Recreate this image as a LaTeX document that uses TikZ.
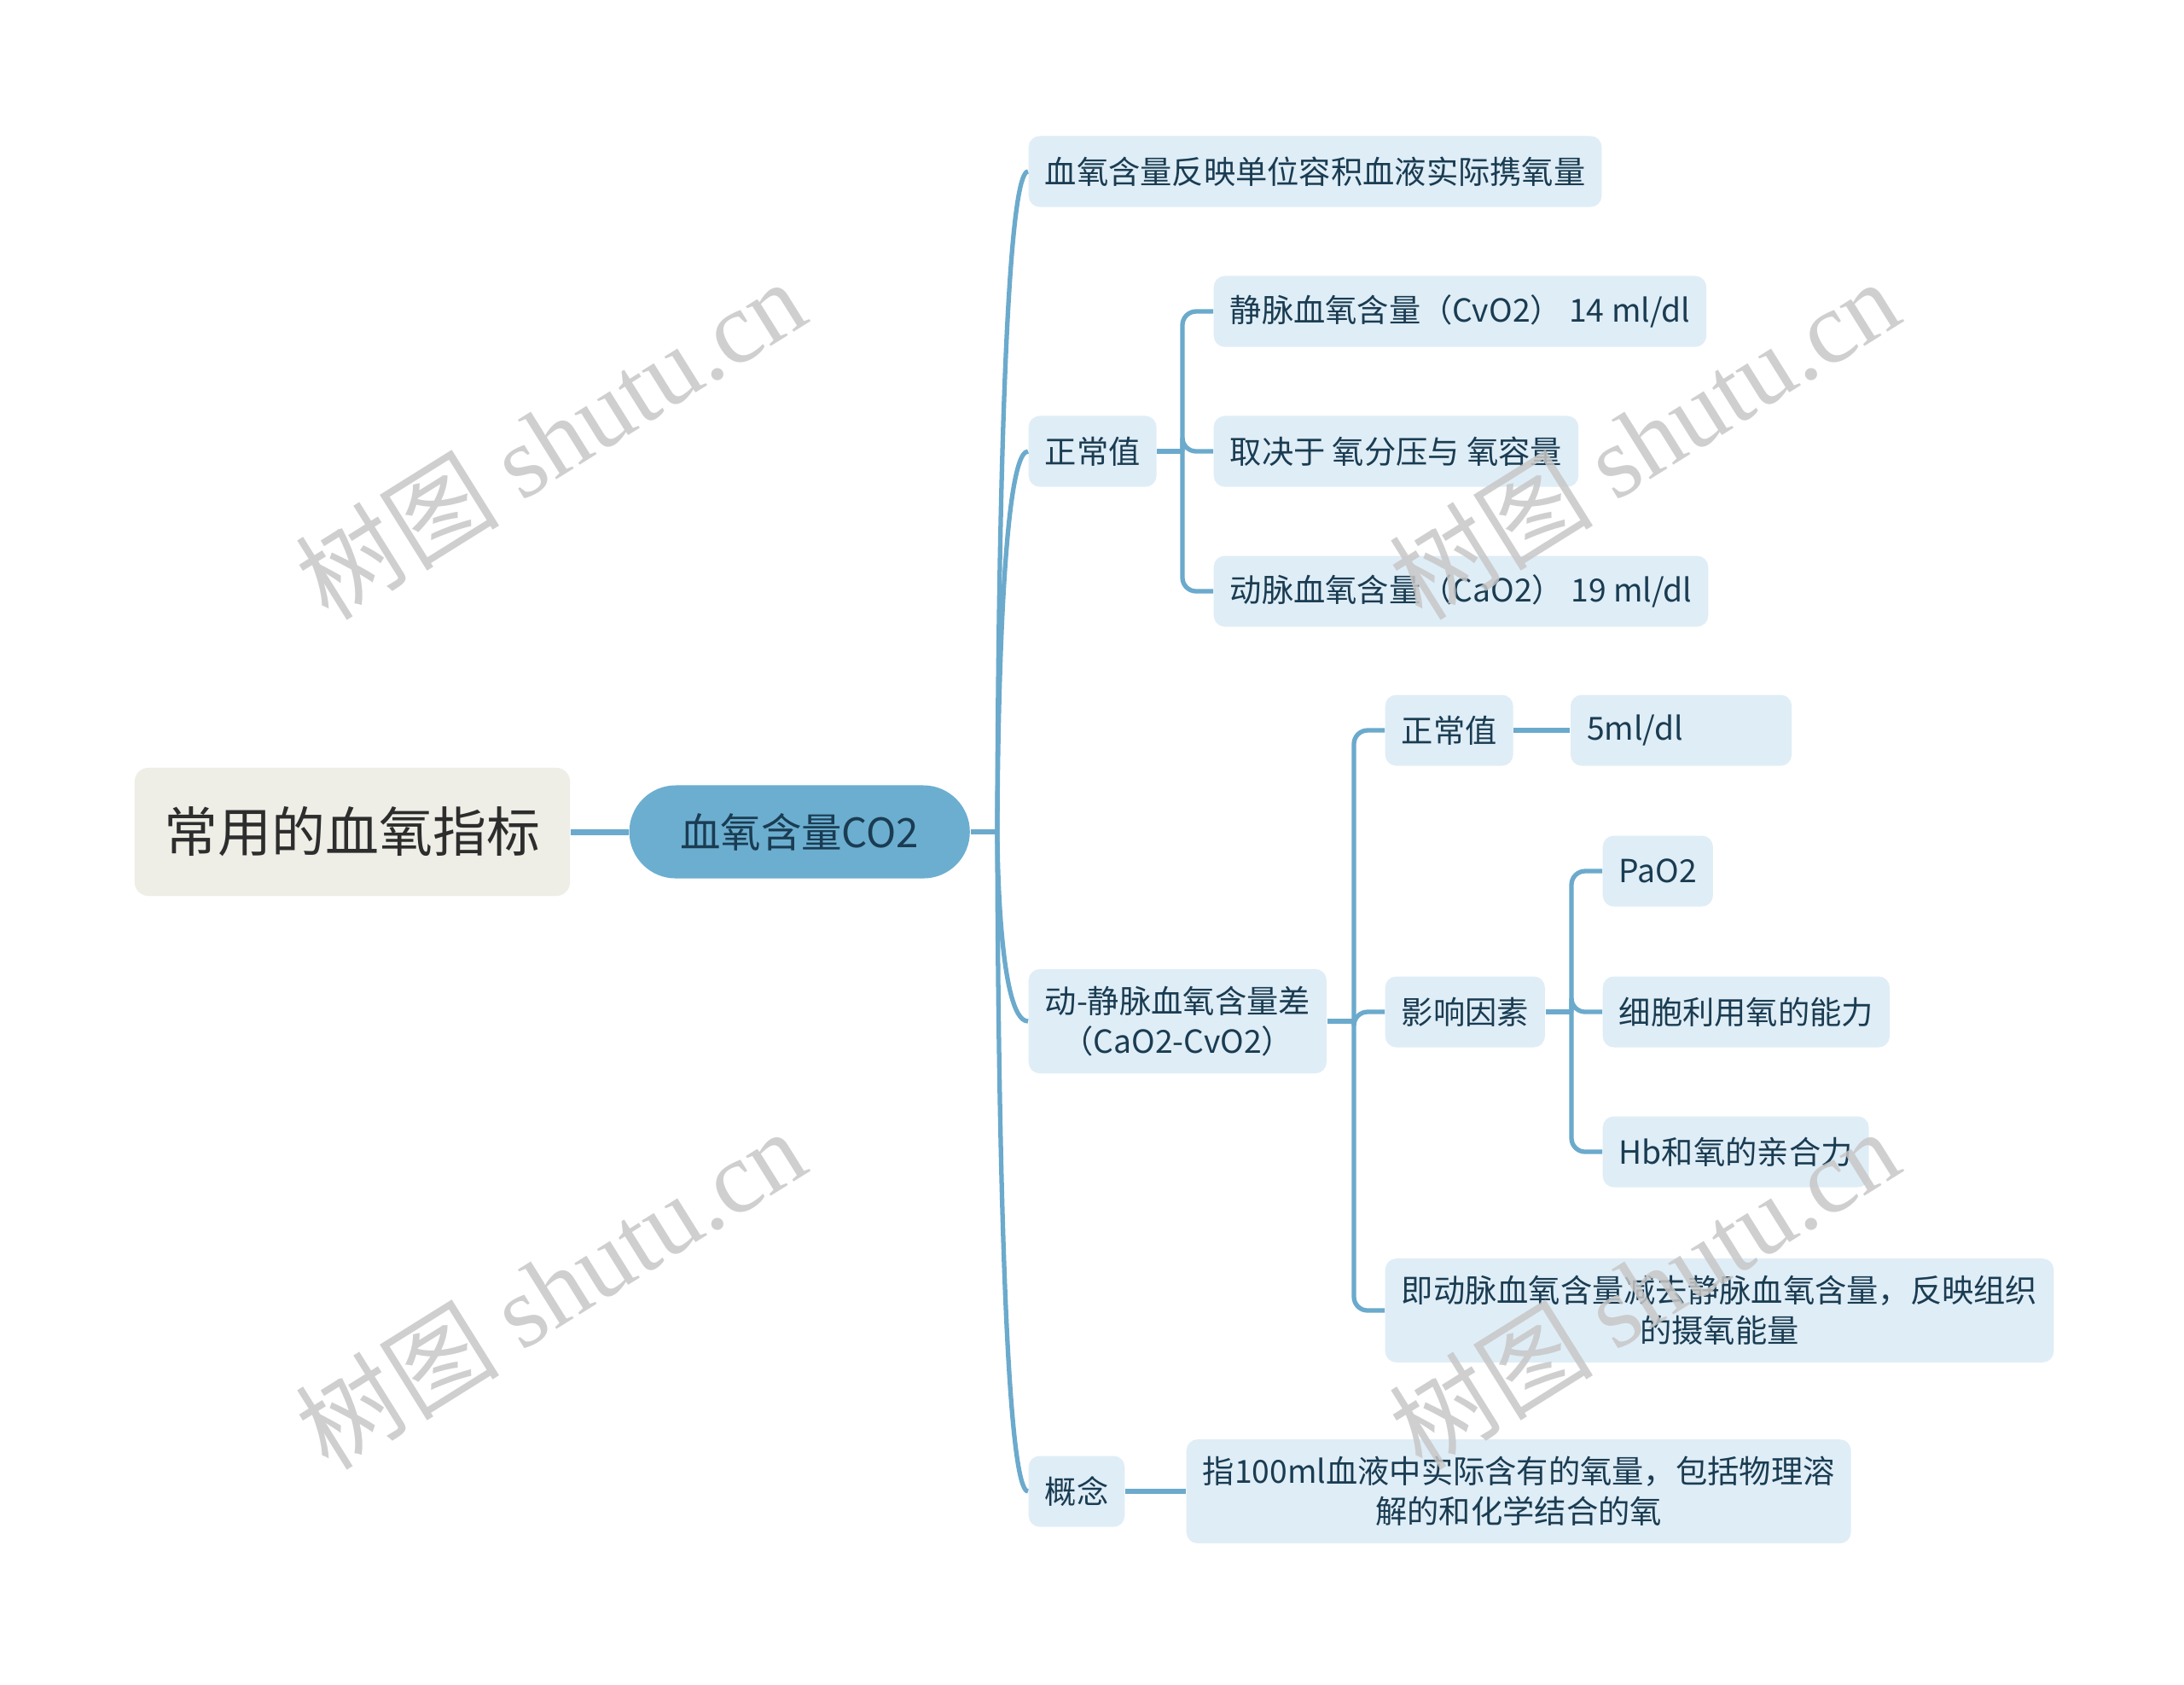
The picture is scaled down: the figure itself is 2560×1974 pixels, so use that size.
\documentclass[tikz,border=0pt]{standalone}
\usepackage{fontspec}
\setmainfont{Noto Sans CJK SC}
\newfontfamily\wmfont{Liberation Serif}
\usepackage{tikz}
\usetikzlibrary{positioning}
\usepackage{xcolor}
\definecolor{linkblue}{RGB}{107,170,204}
\definecolor{topicblue}{RGB}{108,174,208}
\definecolor{paleblue}{RGB}{223,237,246}
\definecolor{inkblue}{RGB}{26,60,82}
\definecolor{rootgray}{RGB}{238,238,230}
\definecolor{rootink}{RGB}{45,45,45}

\begin{document}
\begin{tikzpicture}[x=0.01cm, y=-0.01cm]
\tikzset{
  rootbox/.style={fill=rootgray, rounded corners=0.16cm, minimum width=5.1cm, minimum height=1.5cm, text=rootink, font=\fontsize{17.9pt}{21pt}\selectfont},
  topic/.style={fill=topicblue, rounded corners=0.545cm, minimum width=3.99cm, minimum height=1.09cm, text=inkblue, font=\fontsize{13.5pt}{16pt}\selectfont},
  sub/.style={fill=paleblue, rounded corners=0.13cm, minimum height=0.83cm, inner xsep=0.19cm, inner ysep=0.2cm, text=inkblue, align=center, anchor=west, font=\fontsize{10.6pt}{13.4pt}\selectfont},
  link/.style={draw=linkblue, line width=1.5pt},
  elbow/.style={link, rounded corners=0.16cm},
  wmtext/.style={rotate=32, text=black!22, opacity=0.85, font=\fontsize{34pt}{34pt}\selectfont}
}
\useasboundingbox (0,0) rectangle (2560,1974);
\fill[white] (0,0) rectangle (2560,1974);

\node[rootbox] (root) at (413,975) {常用的血氧指标};
\node[topic, right=0.68cm of root] (co2) {血氧含量CO2};

% first level
\node[sub] (carry) at (1205,201) {血氧含量反映单位容积血液实际携氧量};
\node[sub] (norm) at (1205,529) {正常值};
\node[sub] (diff) at (1205,1197) {动-静脉血氧含量差\\（CaO2-CvO2）};
\node[sub] (concept) at (1205,1748) {概念};

% normal values
\node[sub] (cvo2) at (1422,365) {静脉血氧含量（CvO2） 14 ml/dl};
\node[sub] (depend) at (1422,529) {取决于 氧分压与 氧容量};
\node[sub] (cao2) at (1422,693) {动脉血氧含量（CaO2） 19 ml/dl};

% difference
\node[sub] (dnorm) at (1623,856) {正常值};
\node[sub, right=0.66cm of dnorm, text width=2.21cm, align=left] (dval) {5ml/dl};
\node[sub] (factor) at (1623,1186) {影响因素};
\node[sub] (uptake) at (1623,1536) {即动脉血氧含量减去静脉血氧含量，反映组织\\的摄氧能量};

\node[sub] (pao2) at (1878,1021) {PaO2};
\node[sub] (cell) at (1878,1186) {细胞利用氧的能力};
\node[sub] (hb) at (1878,1350) {Hb和氧的亲合力};

\node[sub, right=0.71cm of concept] (define) {指100ml血液中实际含有的氧量，包括物理溶\\解的和化学结合的氧};

% connectors
\draw[link, line width=2pt] (root) -- (co2);
\coordinate (hub) at (1169,975);
\draw[link] (co2.east) -- (hub);
\foreach \c in {carry,norm,diff,concept}
  \draw[link] (hub) .. controls (hub) and (hub |- \c.west) .. (\c.west);

\coordinate (k1) at (1386,529);
\draw[link] (norm.east) -- (k1);
\foreach \c in {cvo2,depend,cao2}
  \draw[elbow] (k1) |- (\c.west);

\coordinate (k2) at (1587,1197);
\draw[link] (diff.east) -- (k2);
\foreach \c in {dnorm,factor,uptake}
  \draw[elbow] (k2) |- (\c.west);

\coordinate (k3) at (1842,1186);
\draw[link] (factor.east) -- (k3);
\foreach \c in {pao2,cell,hb}
  \draw[elbow] (k3) |- (\c.west);

\draw[link] (dnorm) -- (dval);
\draw[link] (concept) -- (define);

% watermark
\foreach \p [count=\i] in {(645,514),(1927,514),(645,1510),(1927,1510)}
  \node[wmtext] (wm\i) at \p {树图 {\wmfont shutu.cn}};
\end{tikzpicture}
\end{document}
